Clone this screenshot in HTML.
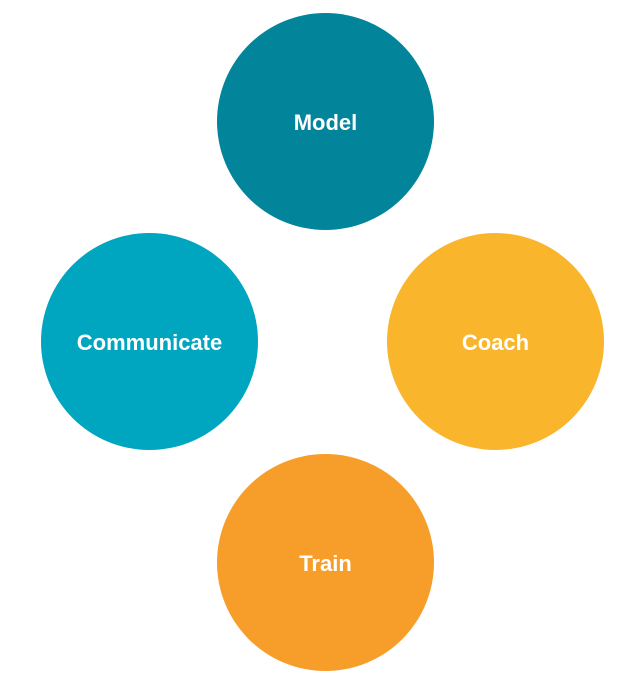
<!DOCTYPE html>
<html><head><style>
body{margin:0;width:633px;height:676px;background:#fff;position:relative;overflow:hidden;font-family:"Liberation Sans",sans-serif}
.c{position:absolute;width:217px;height:217px;border-radius:50%;display:flex;align-items:center;justify-content:center;color:#fff;font-weight:bold;font-size:22px}
.c span{position:relative;top:1px}
</style></head><body>
<div class="c" style="left:217px;top:13px;background:#02849b"><span>Model</span></div>
<div class="c" style="left:41px;top:233px;background:#00a5c0"><span>Communicate</span></div>
<div class="c" style="left:387px;top:233px;background:#f9b52c"><span>Coach</span></div>
<div class="c" style="left:217px;top:454px;background:#f69e29"><span>Train</span></div>
</body></html>
